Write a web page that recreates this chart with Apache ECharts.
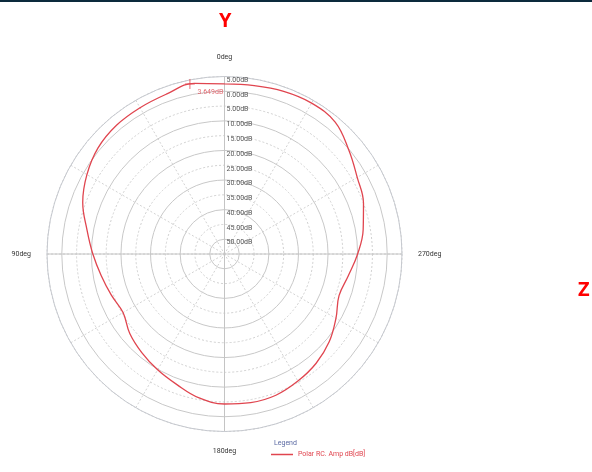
<!DOCTYPE html>
<html>
<head>
<meta charset="utf-8">
<script src="https://cdn.jsdelivr.net/npm/echarts@6/dist/echarts.min.js"></script>
<style>
  html, body { margin: 0; padding: 0; background: #fff; }
  #main { width: 592px; height: 472px; }
</style>
</head>
<body>
<div id="main"></div>
<script>
// angle (deg, counterclockwise from top) and amplitude (dB)
var angles = [0, 10, 20, 30, 40, 50, 60, 70, 80, 90, 100, 110, 120, 130, 140, 150, 160, 170, 180,
  190, 200, 210, 220, 230, 240, 250, 260, 270, 280, 290, 300, 310, 320, 330, 340, 350, 360];
var ampDb = [2.5, 3.6, 2.5, 2.1, 1.8, 0.8, -1.3, -4.0, -7.8, -10.5, -12.7, -14.3, -15.4, -13.2, -11.5, -9.8, -8.0, -5.6, -4.3,
  -4.0, -4.2, -5.4, -6.8, -8.8, -11.5, -13.8, -12.5, -10.0, -7.4, -5.0, -3.2, -0.2, 3.2, 3.9, 3.5, 2.8, 2.5];
var marker = [3.649, 11.5];
var seriesName = 'Polar RC. Amp dB[dB]';

var curve = [];
for (var i = 0; i < angles.length; i++) {
  curve.push([ampDb[i], angles[i]]);
}

var myChart = echarts.init(document.getElementById('main'));
var font = 'Roboto, sans-serif';
var center = [224.5, 254];
var rad = 177.5;

var option = {
  animation: false,
  title: {
    text: 'Legend',
    left: 269,
    top: 435,
    textStyle: { color: '#5b6aa3', fontSize: 7, fontWeight: 'normal', fontFamily: font }
  },
  legend: {
    data: [seriesName],
    left: 266,
    top: 446,
    icon: 'rect',
    itemWidth: 22,
    itemHeight: 1.5,
    itemGap: 4,
    textStyle: { color: '#e0454f', fontSize: 7, fontFamily: font }
  },
  graphic: [
    { type: 'rect', shape: { x: 0, y: 0, width: 592, height: 2 }, style: { fill: '#0c2a3c' } },
    { type: 'text', left: 219, top: 11, style: { text: 'Y', fill: '#ff0000', font: 'bold 20px "Open Sans", sans-serif' } },
    { type: 'text', left: 578, top: 280, style: { text: 'Z', fill: '#ff0000', font: 'bold 20px "Open Sans", sans-serif' } }
  ],
  polar: [
    { center: center, radius: rad },
    { center: center, radius: rad }
  ],
  angleAxis: [
    {
      polarIndex: 0, type: 'value', min: 0, max: 360, interval: 30,
      startAngle: 90, clockwise: false,
      axisLine: { show: false }, axisTick: { show: false }, axisLabel: { show: false },
      splitLine: { show: true, lineStyle: { color: '#d2d2d2', type: [2, 2], width: 1 } }
    },
    {
      polarIndex: 1, type: 'value', min: 0, max: 360, interval: 90,
      startAngle: 90, clockwise: false,
      axisLine: { show: true, lineStyle: { color: '#c6c9cf', width: 1 } },
      axisTick: { show: false },
      axisLabel: {
        margin: 16, color: '#333', fontSize: 7, fontFamily: font,
        formatter: function (v) { return (v % 90 === 0 && v < 360) ? v + 'deg' : ''; }
      },
      splitLine: { show: true, lineStyle: { color: '#c4c4c4', width: 1 } }
    }
  ],
  radiusAxis: [
    {
      polarIndex: 0, min: -55, max: 5, interval: 5,
      axisLine: { show: false }, axisTick: { show: false }, axisLabel: { show: false },
      splitLine: { show: true, lineStyle: { color: ['#cfcfcf', 'rgba(0,0,0,0)'], type: [2, 2], width: 1 } }
    },
    {
      polarIndex: 1, min: -55, max: 5, interval: 5,
      axisLine: { show: false }, axisTick: { show: false },
      axisLabel: {
        margin: -2, align: 'left', verticalAlign: 'top', color: '#555', fontSize: 7, fontFamily: font,
        formatter: function (v) { return v === -55 ? '' : Math.abs(v).toFixed(2) + 'dB'; }
      },
      splitLine: { show: true, lineStyle: { color: ['rgba(0,0,0,0)', '#c8c8c8'], width: 1 } }
    }
  ],
  series: [
    {
      name: seriesName,
      type: 'line',
      coordinateSystem: 'polar',
      polarIndex: 0,
      data: curve,
      smooth: 0.4,
      showSymbol: false,
      color: '#e0454f',
      lineStyle: { width: 1.3, color: '#e0454f' },
      z: 5
    },
    {
      name: 'marker',
      type: 'scatter',
      coordinateSystem: 'polar',
      polarIndex: 0,
      data: [marker],
      symbol: 'path://M0,5 L10,5 M5,0 L5,10',
      symbolSize: 10,
      itemStyle: { color: 'none', borderColor: '#e0454f', borderWidth: 1 },
      label: {
        show: true, position: 'right', distance: 0, offset: [0, 8],
        formatter: marker[0].toFixed(3) + 'dB',
        color: '#e0454f', fontSize: 7, fontFamily: font
      },
      z: 6
    }
  ]
};
myChart.setOption(option);
</script>
</body>
</html>
